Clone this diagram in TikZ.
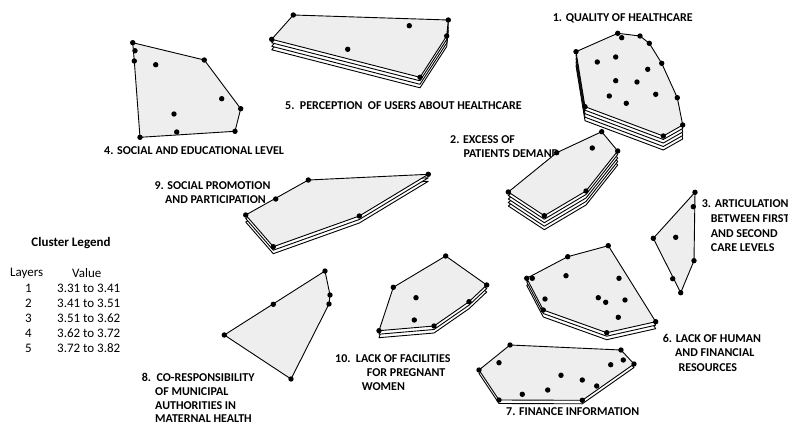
\documentclass[tikz,border=0pt]{standalone}
\usepackage{fontspec}
\setmainfont{Carlito}
\definecolor{polygray}{RGB}{238,238,238}
\tikzset{
  poly/.style={draw=black, line width=0.9pt, fill=polygray, line join=round},
  under/.style={draw=black, line width=0.9pt, fill=white, line join=round},
  lbl/.style={anchor=west, inner sep=0pt, font=\bfseries\fontsize{12}{14}\selectfont},
  leg/.style={inner sep=0pt, font=\fontsize{13}{15}\selectfont},
}
\newcommand\layered[2]{\foreach \s in {#1}{\draw[under, yshift={-\s*3.5pt}] #2 -- cycle;}}
\newcommand\pts[1]{\foreach \p in {#1}{\fill[black] \p circle (2.7pt);}}
\begin{document}
\begin{tikzpicture}[x=1pt, y=-1pt]
\useasboundingbox (0,0) rectangle (788,423);

% ---- labels ----
\node[lbl] (l1) at (552.7,18.3) {1. QUALITY OF HEALTHCARE};
\node[lbl] (l5) at (285,105.5) {5.\ \ PERCEPTION\ \ OF USERS ABOUT HEALTHCARE};
\node[lbl] (l4) at (104,150.5) {4. SOCIAL AND EDUCATIONAL LEVEL};
\node[lbl] (l2a) at (450,139.7) {2. EXCESS OF};
\node[lbl] (l2b) at (463.3,154) {PATIENTS DEMAND};
\node[lbl] (l3a) at (701.7,203.7) {3. ARTICULATION};
\node[lbl] (l3b) at (710.7,218.7) {BETWEEN FIRST};
\node[lbl] (l3c) at (710.7,233.2) {AND SECOND};
\node[lbl] (l3d) at (710.7,247.7) {CARE LEVELS};
\node[lbl] (l9a) at (154.3,186) {9. SOCIAL PROMOTION};
\node[lbl] (l9b) at (165,200) {AND PARTICIPATION};
\node[lbl] (l8a) at (141.7,377.3) {8.\ \ CO-RESPONSIBILITY};
\node[lbl] (l8b) at (155,391.5) {OF MUNICIPAL};
\node[lbl] (l8c) at (155,405.2) {AUTHORITIES IN};
\node[lbl] (l8d) at (155,418.5) {MATERNAL HEALTH};
\node[lbl] (l10a) at (335,358.3) {10.\ \ LACK OF FACILITIES};
\node[lbl] (l10b) at (366.7,372.2) {FOR PREGNANT};
\node[lbl] (l10c) at (361.7,386.7) {WOMEN};
\node[lbl] (l6a) at (662.7,338.5) {6. LACK OF HUMAN};
\node[lbl] (l6b) at (675,353) {AND FINANCIAL};
\node[lbl] (l6c) at (678.3,367.5) {RESOURCES};
\node[lbl] (l7) at (506,411.5) {7. FINANCE INFORMATION};

% ---- legend ----
\node[leg, font=\bfseries\fontsize{13}{15}\selectfont] (lt) at (71,243) {Cluster Legend};
\node[leg, anchor=west] (lh1) at (10,273.3) {Layers};
\node[leg, anchor=west] (lh2) at (72,273.3) {Value};
\node[leg] (n1) at (28.3,288.5) {1}; \node[leg, anchor=west] (v1) at (57,288.5) {3.31 to 3.41};
\node[leg] (n2) at (28.3,303.5) {2}; \node[leg, anchor=west] (v2) at (57,303.5) {3.41 to 3.51};
\node[leg] (n3) at (28.3,318.5) {3}; \node[leg, anchor=west] (v3) at (57,318.5) {3.51 to 3.62};
\node[leg] (n4) at (28.3,333.5) {4}; \node[leg, anchor=west] (v4) at (57,333.5) {3.62 to 3.72};
\node[leg] (n5) at (28.3,348.5) {5}; \node[leg, anchor=west] (v5) at (57,348.5) {3.72 to 3.82};

% ---- cluster 1 (5 layers) ----
\def\pa{(617.7,33.3) -- (640,36) -- (649.3,43.3) -- (661.7,63.3) -- (677.3,97.7) -- (682.7,125) -- (663.3,136) -- (585,106.7) -- (576,51.7)}
\layered{4,3,2,1}{\pa}
\draw[poly] \pa -- cycle;
\pts{(617.7,33.3),(621.7,37.7),(640,36),(649.3,43.3),(661.7,63.3),(677.3,97.7),(682.7,125),(663.3,136),(585,106.7),(576,51.7),(597.3,62),(615.7,57),(647.7,69.3),(615.7,80.7),(637,82),(655.7,94.3),(609.3,96),(626.3,103.3)}

% ---- cluster 5 (4 layers) ----
\def\pb{(293.3,15) -- (448.3,20) -- (446.7,36) -- (420,77.3) -- (271.7,39.3)}
\layered{3,2,1}{\pb}
\draw[poly] \pb -- cycle;
\pts{(293.3,15),(448.3,20),(446.7,36),(420,77.3),(271.7,39.3),(409.3,25.7),(347.7,49.3)}

% ---- cluster 4 (1 layer) ----
\draw[poly] (132.7,42.7) -- (204.3,60) -- (240.7,108.7) -- (235,131.3) -- (140,137.3) -- (134.3,61) -- cycle;
\pts{(132.7,42.7),(204.3,60),(240.7,108.7),(235,131.3),(140,137.3),(134.3,61),(135,50.7),(155.7,64.7),(221.7,98.7),(174,114),(176.7,132)}

% ---- cluster 2 (5 layers) ----
\def\pc{(601.7,131.7) -- (617.7,151) -- (586,191) -- (544.3,215.7) -- (508.3,192) -- (556.7,152.7)}
\layered{4,3,2,1}{\pc}
\draw[poly] \pc -- cycle;
\pts{(601.7,131.7),(617.7,151),(586,191),(544.3,215.7),(508.3,192),(556.7,152.7),(592.3,148)}

% ---- cluster 3 (1 layer) ----
\draw[poly] (695,192.3) -- (694,260.7) -- (680.7,292.7) -- (653.3,238.3) -- cycle;
\pts{(695,192.3),(694,260.7),(680.7,292.7),(653.3,238.3),(693.3,206.7),(672.7,278.7),(675.7,237.3)}

% ---- cluster 9 (3 layers) ----
\def\pd{(308.3,180) -- (428.3,174.3) -- (359.3,216) -- (273.3,246.7) -- (245.7,215)}
\layered{2,1}{\pd}
\draw[poly] \pd -- cycle;
\pts{(308.3,180),(428.3,174.3),(359.3,216),(273.3,246.7),(245.7,215),(275.7,199)}

% ---- cluster 8 (1 layer) ----
\draw[poly] (325,271) -- (330,295) -- (329,304) -- (291,379) -- (224.3,335) -- cycle;
\pts{(325,271),(330,295),(329,304),(291,379),(224.3,335),(273.3,304.3)}

% ---- cluster 10 (3 layers) ----
\def\pe{(445.7,256) -- (486.7,285) -- (469,301.7) -- (434,326) -- (379,330.7) -- (393.3,287.3)}
\layered{2,1}{\pe}
\draw[poly] \pe -- cycle;
\pts{(445.7,256),(486.7,285),(469,301.7),(434,326),(379,330.7),(393.3,287.3),(416,297.7),(414.3,320)}

% ---- cluster 6 (3 layers) ----
\def\pf{(608.3,245.7) -- (655.7,321.7) -- (606.7,332.7) -- (543.3,310) -- (526.7,278.3) -- (567.7,256.7)}
\layered{2,1}{\pf}
\draw[poly] \pf -- cycle;
\pts{(608.3,245.7),(655.7,321.7),(606.7,332.7),(543.3,310),(526.7,278.3),(567.7,256.7),(532.3,278.3),(566,275.7),(619,278.3),(545,299),(598.3,297.7),(605.7,302.3),(625,300),(618.3,317.3)}

% ---- cluster 7 (2 layers) ----
\def\pg{(510,345) -- (621,350) -- (634,364) -- (582.3,400.3) -- (499,400) -- (479,370)}
\layered{1}{\pg}
\draw[poly] \pg -- cycle;
\pts{(510,345),(621,350),(634,364),(582.3,400.3),(499,400),(479,370),(623.3,360),(596.7,386),(499,362.7),(610.7,364.7),(561,375.3),(582.3,380),(522.3,394.3),(547.7,390)}
\end{tikzpicture}
\end{document}
